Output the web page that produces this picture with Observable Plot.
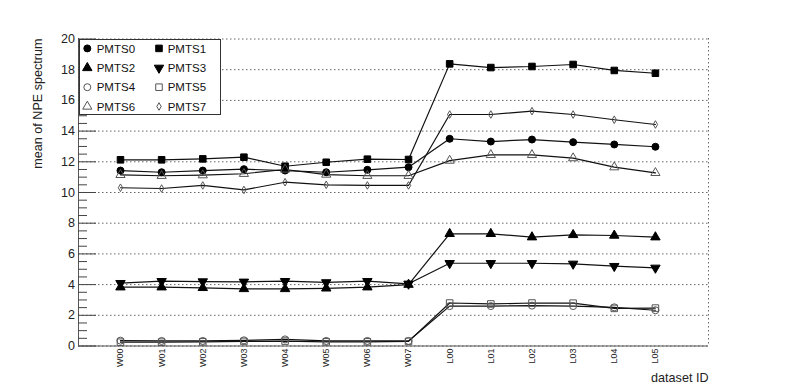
<!DOCTYPE html>
<html><head><meta charset="utf-8">
<script src="https://cdn.jsdelivr.net/npm/d3@7"></script>
<script src="https://cdn.jsdelivr.net/npm/@observablehq/plot@0.6"></script>
<style>body{margin:0;background:#fff;} #chart{position:relative;width:788px;height:384px;}</style>
</head><body><div id="chart"></div>
<script>
const categories = ["W00","W01","W02","W03","W04","W05","W06","W07","L00","L01","L02","L03","L04","L05"];
const seriesNames = ["PMTS0","PMTS1","PMTS2","PMTS3","PMTS4","PMTS5","PMTS6","PMTS7"];
const PMTS0 = [11.43,11.32,11.43,11.52,11.43,11.32,11.48,11.65,13.50,13.32,13.45,13.28,13.13,12.98];
const PMTS1 = [12.13,12.13,12.19,12.30,11.71,11.97,12.17,12.15,18.38,18.14,18.21,18.34,17.95,17.77];
const PMTS2 = [3.83,3.83,3.79,3.72,3.72,3.76,3.83,4.00,7.31,7.31,7.09,7.24,7.20,7.09];
const PMTS3 = [4.09,4.22,4.20,4.18,4.22,4.14,4.22,4.05,5.39,5.39,5.39,5.35,5.20,5.09];
const PMTS4 = [0.35,0.33,0.33,0.37,0.43,0.33,0.33,0.33,2.60,2.60,2.63,2.60,2.52,2.33];
const PMTS5 = [0.25,0.25,0.27,0.30,0.32,0.27,0.27,0.30,2.80,2.74,2.80,2.79,2.45,2.47];
const PMTS6 = [11.15,11.09,11.13,11.22,11.50,11.17,11.09,11.09,12.08,12.45,12.45,12.24,11.65,11.28];
const PMTS7 = [10.31,10.26,10.46,10.17,10.67,10.50,10.46,10.46,15.08,15.08,15.30,15.08,14.74,14.43];
const yTicks = [0,2,4,6,8,10,12,14,16,18,20];
const xLabel = "dataset ID";
const yLabel = "mean of NPE spectrum";

const values = {PMTS0,PMTS1,PMTS2,PMTS3,PMTS4,PMTS5,PMTS6,PMTS7};
const styles = {
  PMTS0:{symbol:"circle",  fill:"#000", stroke:"#000", r:3.5, rotate:0},
  PMTS1:{symbol:"square",  fill:"#000", stroke:"#000", r:3.7, rotate:0},
  PMTS2:{symbol:"triangle",fill:"#000", stroke:"#000", r:3.5, rotate:0},
  PMTS3:{symbol:"triangle",fill:"#000", stroke:"#000", r:3.5, rotate:180},
  PMTS4:{symbol:"circle",  fill:"none", stroke:"#555", r:3.5, rotate:0},
  PMTS5:{symbol:"square",  fill:"none", stroke:"#555", r:3.7, rotate:0},
  PMTS6:{symbol:"triangle",fill:"none", stroke:"#555", r:3.4, rotate:0},
  PMTS7:{symbol:"diamond", fill:"none", stroke:"#555", r:2.3, rotate:0}
};
const table = seriesNames.flatMap(s => values[s].map((v,i)=>({series:s, i, cat:categories[i], value:v})));

const xDom = [-1.02, 14.29];
const yMinor = d3.range(0, 20.01, 0.5).filter(v => v % 2 !== 0);
const font = "Liberation Sans, Arial, Helvetica, sans-serif";

const dotMarks = seriesNames.map(s => Plot.dot(table.filter(d => d.series === s), {
  x:"i", y:"value", symbol: styles[s].symbol, r: styles[s].r, fill: styles[s].fill,
  stroke: styles[s].stroke, strokeWidth: 1, rotate: styles[s].rotate
}));

const chart = Plot.plot({
  width:788, height:384,
  marginLeft:78, marginRight:80, marginTop:38, marginBottom:39,
  style:{fontFamily:font, background:"white", color:"#222", overflow:"visible"},
  x:{domain:xDom, range:[78,708]},
  y:{domain:[0,20], range:[345.5,38.5]},
  marks:[
    Plot.gridY(yTicks, {stroke:"#666", strokeOpacity:1, strokeDasharray:"1.5,2.5", strokeWidth:1}),
    Plot.ruleX([xDom[1]], {stroke:"#666", strokeDasharray:"1.5,2.5"}),
    Plot.ruleX([xDom[0]], {stroke:"#555"}),
    Plot.ruleY([0], {stroke:"#555"}),
    Plot.axisY(yTicks, {anchor:"left", tickSize:-18, tickPadding:21.5, fontSize:12.5, label:null, stroke:"#444"}),
    Plot.axisY(yMinor, {anchor:"left", tickSize:-9, tickFormat:() => "", label:null, stroke:"#444"}),
    Plot.axisX(d3.range(categories.length), {anchor:"bottom", tickFormat: i => categories[i], tickRotate:-90, tickSize:0, tickPadding:3, fontSize:9, label:null}),
    Plot.line(table, {x:"i", y:"value", z:"series", stroke:"#111", strokeWidth:1.2}),
    ...dotMarks,
    Plot.text([yLabel], {frameAnchor:"top-left", dx:-37, rotate:-90, textAnchor:"end", lineAnchor:"bottom", fontSize:12.6, fill:"#222"}),
    Plot.text([xLabel], {frameAnchor:"bottom-right", dy:36, textAnchor:"end", lineAnchor:"bottom", fontSize:12.6, fill:"#222"})
  ]
});
document.getElementById("chart").appendChild(chart);

// legend box (top-left inside frame)
const svg = d3.select(chart);
const lg = svg.append("g").attr("font-family", font).attr("font-size", 11.5).attr("fill", "#111").attr("text-anchor", "start");
lg.append("rect").attr("x", 79.5).attr("y", 39.5).attr("width", 141).attr("height", 75)
  .style("fill", "#fff").style("stroke", "#333").style("stroke-width", "1px");
const rowY = [48.4, 67.9, 87.2, 106.5];
const colMarkX = [87.3, 159];
const colTextX = [96.7, 167.7];
const symMap = {circle:d3.symbolCircle, square:d3.symbolSquare, triangle:d3.symbolTriangle, diamond:d3.symbolDiamond};
seriesNames.forEach((s, k) => {
  const row = Math.floor(k/2), col = k % 2, st = styles[s];
  lg.append("path")
    .attr("d", d3.symbol(symMap[st.symbol], Math.PI*st.r*st.r)())
    .attr("transform", `translate(${colMarkX[col]},${rowY[row]}) rotate(${st.rotate})`)
    .attr("fill", st.fill).attr("stroke", st.stroke).attr("stroke-width", 1);
  lg.append("text").attr("x", colTextX[col]).attr("y", rowY[row]).attr("dy", "0.36em").attr("text-anchor", "start").text(s);
});
</script>
</body></html>
